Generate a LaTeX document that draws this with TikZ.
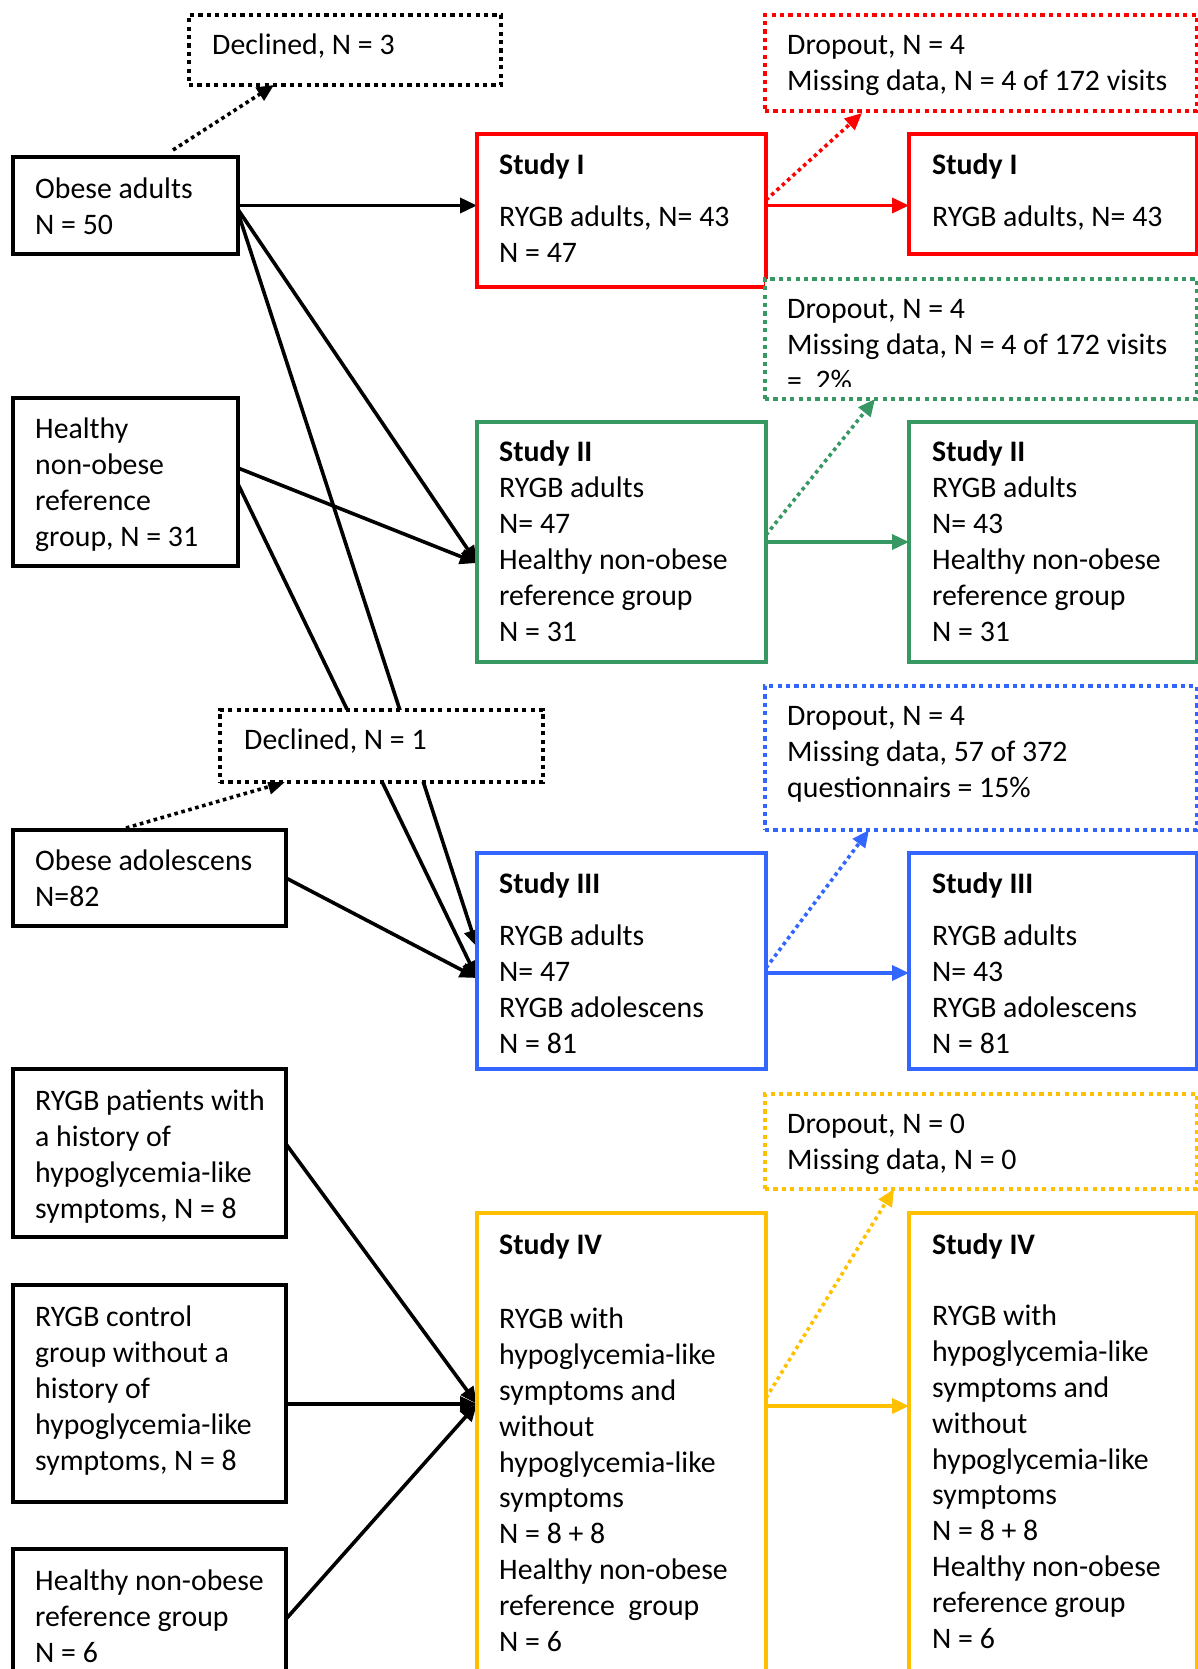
\documentclass[tikz,border=0pt]{standalone}
\usepackage{fontspec}
\setmainfont{Carlito}
\usetikzlibrary{arrows.meta,backgrounds}
\definecolor{cred}{RGB}{255,0,0}
\definecolor{cgreen}{RGB}{56,152,100}
\definecolor{cblue}{RGB}{51,102,255}
\definecolor{cyellow}{RGB}{255,192,0}
\tikzset{
  box/.style={draw=#1, line width=4.2pt, fill=white, anchor=north west, inner sep=0pt, outer sep=0pt},
  dbox/.style={draw=#1, line width=4.2pt, dash pattern=on 4.2pt off 4.2pt, fill=white, anchor=north west, inner sep=0pt, outer sep=0pt},
  txt/.style={anchor=base west, align=flush left, text width=420pt, inner sep=0pt, font=\fontsize{29.8}{35.9}\selectfont},
  conn/.style={line width=3.6pt, -{Triangle[length=17pt,width=15pt]}},
  dconn/.style={line width=3.6pt, dash pattern=on 3.6pt off 3.6pt, -{Triangle[length=17pt,width=15pt]}},
}
\begin{document}
\begin{tikzpicture}[x=1pt,y=-1pt]
\useasboundingbox (0,0) rectangle (1198,1669);
\clip (0,0) rectangle (1198,1669);
% ---------- left column ----------
\node[dbox=black, minimum width=312pt, minimum height=70pt] (dec3) at (189,15) {};
\node[txt] (dec3t) at (212,54.5) {Declined, N = 3};
\node[box=black, minimum width=225pt, minimum height=97pt] (oa) at (13,157) {};
\node[txt] (oat) at (35,198.5) {Obese adults\\N = 50};
\node[box=black, minimum width=225pt, minimum height=168pt] (hr) at (13,398) {};
\node[txt] (hrt) at (35,438.5) {Healthy\\non-obese\\reference\\group, N = 31};
\node[box=black, minimum width=273pt, minimum height=96pt] (ad) at (13,830) {};
\node[txt] (adt) at (35,870.5) {Obese adolescens\\N=82};
\node[box=black, minimum width=273pt, minimum height=168pt] (hyp) at (13,1069) {};
\node[txt] (hypt) at (35,1110.5) {RYGB patients with\\a history of\\hypoglycemia-like\\symptoms, N = 8};
\node[box=black, minimum width=273pt, minimum height=217pt] (ctl) at (13,1285) {};
\node[txt] (ctlt) at (35,1326.5) {RYGB control\\group without a\\history of\\hypoglycemia-like\\symptoms, N = 8};
\node[box=black, minimum width=273pt, minimum height=160pt] (h6) at (13,1549) {};
\node[txt] (h6t) at (35,1590.5) {Healthy non-obese\\reference group\\N = 6};
% ---------- studies (left) ----------
\node[box=cred, minimum width=289pt, minimum height=153pt] (s1a) at (477,134) {};
\node[txt] (s1at) at (499,174.5) {\textbf{Study I}\\[16pt]RYGB adults, N= 43\\N = 47};
\node[box=cgreen, minimum width=289pt, minimum height=240pt] (s2a) at (477,422) {};
\node[txt] (s2at) at (499,461.5) {\textbf{Study II}\\RYGB adults\\N= 47\\Healthy non-obese\\reference group\\N = 31};
\node[box=cblue, minimum width=289pt, minimum height=216pt] (s3a) at (477,853) {};
\node[txt] (s3at) at (499,893.5) {\textbf{Study III}\\[16pt]RYGB adults\\N= 47\\RYGB adolescens\\N = 81};
\node[box=cyellow, minimum width=289pt, minimum height=500pt] (s4a) at (477,1213) {};
\node[txt] (s4at) at (499,1254.5) {\textbf{Study IV}\\[38pt]RYGB with\\hypoglycemia-like\\symptoms and\\without\\hypoglycemia-like\\symptoms\\N = 8 + 8\\Healthy non-obese\\reference\ \ group\\N = 6};
% ---------- studies (right) ----------
\node[box=cred, minimum width=288pt, minimum height=120pt] (s1b) at (909,134) {};
\node[txt] (s1bt) at (932,174.5) {\textbf{Study I}\\[16pt]RYGB adults, N= 43};
\node[box=cgreen, minimum width=288pt, minimum height=240pt] (s2b) at (909,422) {};
\node[txt] (s2bt) at (932,461.5) {\textbf{Study II}\\RYGB adults\\N= 43\\Healthy non-obese\\reference group\\N = 31};
\node[box=cblue, minimum width=288pt, minimum height=216pt] (s3b) at (909,853) {};
\node[txt] (s3bt) at (932,893.5) {\textbf{Study III}\\[16pt]RYGB adults\\N= 43\\RYGB adolescens\\N = 81};
\node[box=cyellow, minimum width=288pt, minimum height=500pt] (s4b) at (909,1213) {};
\node[txt] (s4bt) at (932,1254.5) {\textbf{Study IV}\\[35pt]RYGB with\\hypoglycemia-like\\symptoms and\\without\\hypoglycemia-like\\symptoms\\N = 8 + 8\\Healthy non-obese\\reference group\\N = 6};
% ---------- dropout boxes ----------
\node[dbox=cred, minimum width=432pt, minimum height=96pt] (d1) at (765,15) {};
\node[txt] (d1t) at (787,54.5) {Dropout, N = 4\\Missing data, N = 4 of 172 visits};
\node[dbox=cgreen, minimum width=432pt, minimum height=120pt] (d2) at (765,279) {};
\begin{scope}
\clip (765,279) rectangle (1198,386);
\node[txt] (d2t) at (787,318.5) {Dropout, N = 4\\Missing data, N = 4 of 172 visits\\= \ 2\%};
\end{scope}
\node[dbox=cblue, minimum width=432pt, minimum height=144pt] (d3) at (765,686) {};
\node[txt] (d3t) at (787,725.5) {Dropout, N = 4\\Missing data, 57 of 372\\questionnairs = 15\%};
\node[dbox=cyellow, minimum width=432pt, minimum height=95pt] (d4) at (765,1094) {};
\node[txt] (d4t) at (787,1133.5) {Dropout, N = 0\\Missing data, N = 0};
% declined N=1 on top of lines
\node[dbox=black, minimum width=323pt, minimum height=72pt] (dec1) at (220,710) {};
\node[txt] (dec1t) at (244,749.5) {Declined, N = 1};
% ---------- connectors ----------
\begin{pgfonlayer}{background}
\coordinate (s2in) at ([yshift=-21pt]s2a.west);
\coordinate (s3in1) at ([yshift=14pt]s3a.west);
\coordinate (s3in2) at ([yshift=-17pt]s3a.west);
\coordinate (s4in) at ([yshift=-191pt]s4a.north west);
\draw[conn] (oa.east) -- (s1a.west |- oa.east);
\draw[conn] ([yshift=-4pt]oa.east) -- (s2in);
\draw[conn] ([yshift=-7pt]oa.east) -- (s3in1);
\draw[conn] ([yshift=14pt]hr.east) -- (s2in);
\draw[conn] ([yshift=-2pt]hr.east) -- (s3in2);
\draw[conn] (ad.east) -- (s3in2);
\draw[conn] ([yshift=9pt]hyp.east) -- (s4in);
\draw[conn] (ctl.east |- s4in) -- (s4in);
\draw[conn] ([yshift=-70pt]h6.north east) -- (s4in);
% black dotted
\draw[dconn] ([xshift=160pt,yshift=7pt]oa.north west) -- ([xshift=85pt]dec3.south west);
\draw[dconn] ([xshift=113pt,yshift=2pt]ad.north west) -- ([xshift=65pt]dec1.south west);
% red
\coordinate (r0) at ([yshift=5pt]s1a.east);
\draw[conn, cred] (r0) -- (s1b.west |- r0);
\draw[dconn, cred] ([yshift=10.5pt]s1a.east) -- ([xshift=97pt,yshift=-2pt]d1.south west);
% green
\draw[conn, cgreen] (s2a.east) -- (s2b.west);
\draw[dconn, cgreen] ([yshift=7pt]s2a.east) -- ([xshift=110pt]d2.south west);
% blue
\coordinate (b0) at ([yshift=-12pt]s3a.east);
\draw[conn, cblue] (b0) -- (s3b.west |- b0);
\draw[dconn, cblue] ([yshift=-7pt]s3a.east) -- ([xshift=104pt]d3.south west);
% yellow
\coordinate (y0) at ([yshift=-193pt]s4a.north east);
\draw[conn, cyellow] (y0) -- (s4b.west |- y0);
\draw[dconn, cyellow] ([yshift=-185pt]s4a.north east) -- ([xshift=129pt]d4.south west);
\end{pgfonlayer}
\end{tikzpicture}
\end{document}
